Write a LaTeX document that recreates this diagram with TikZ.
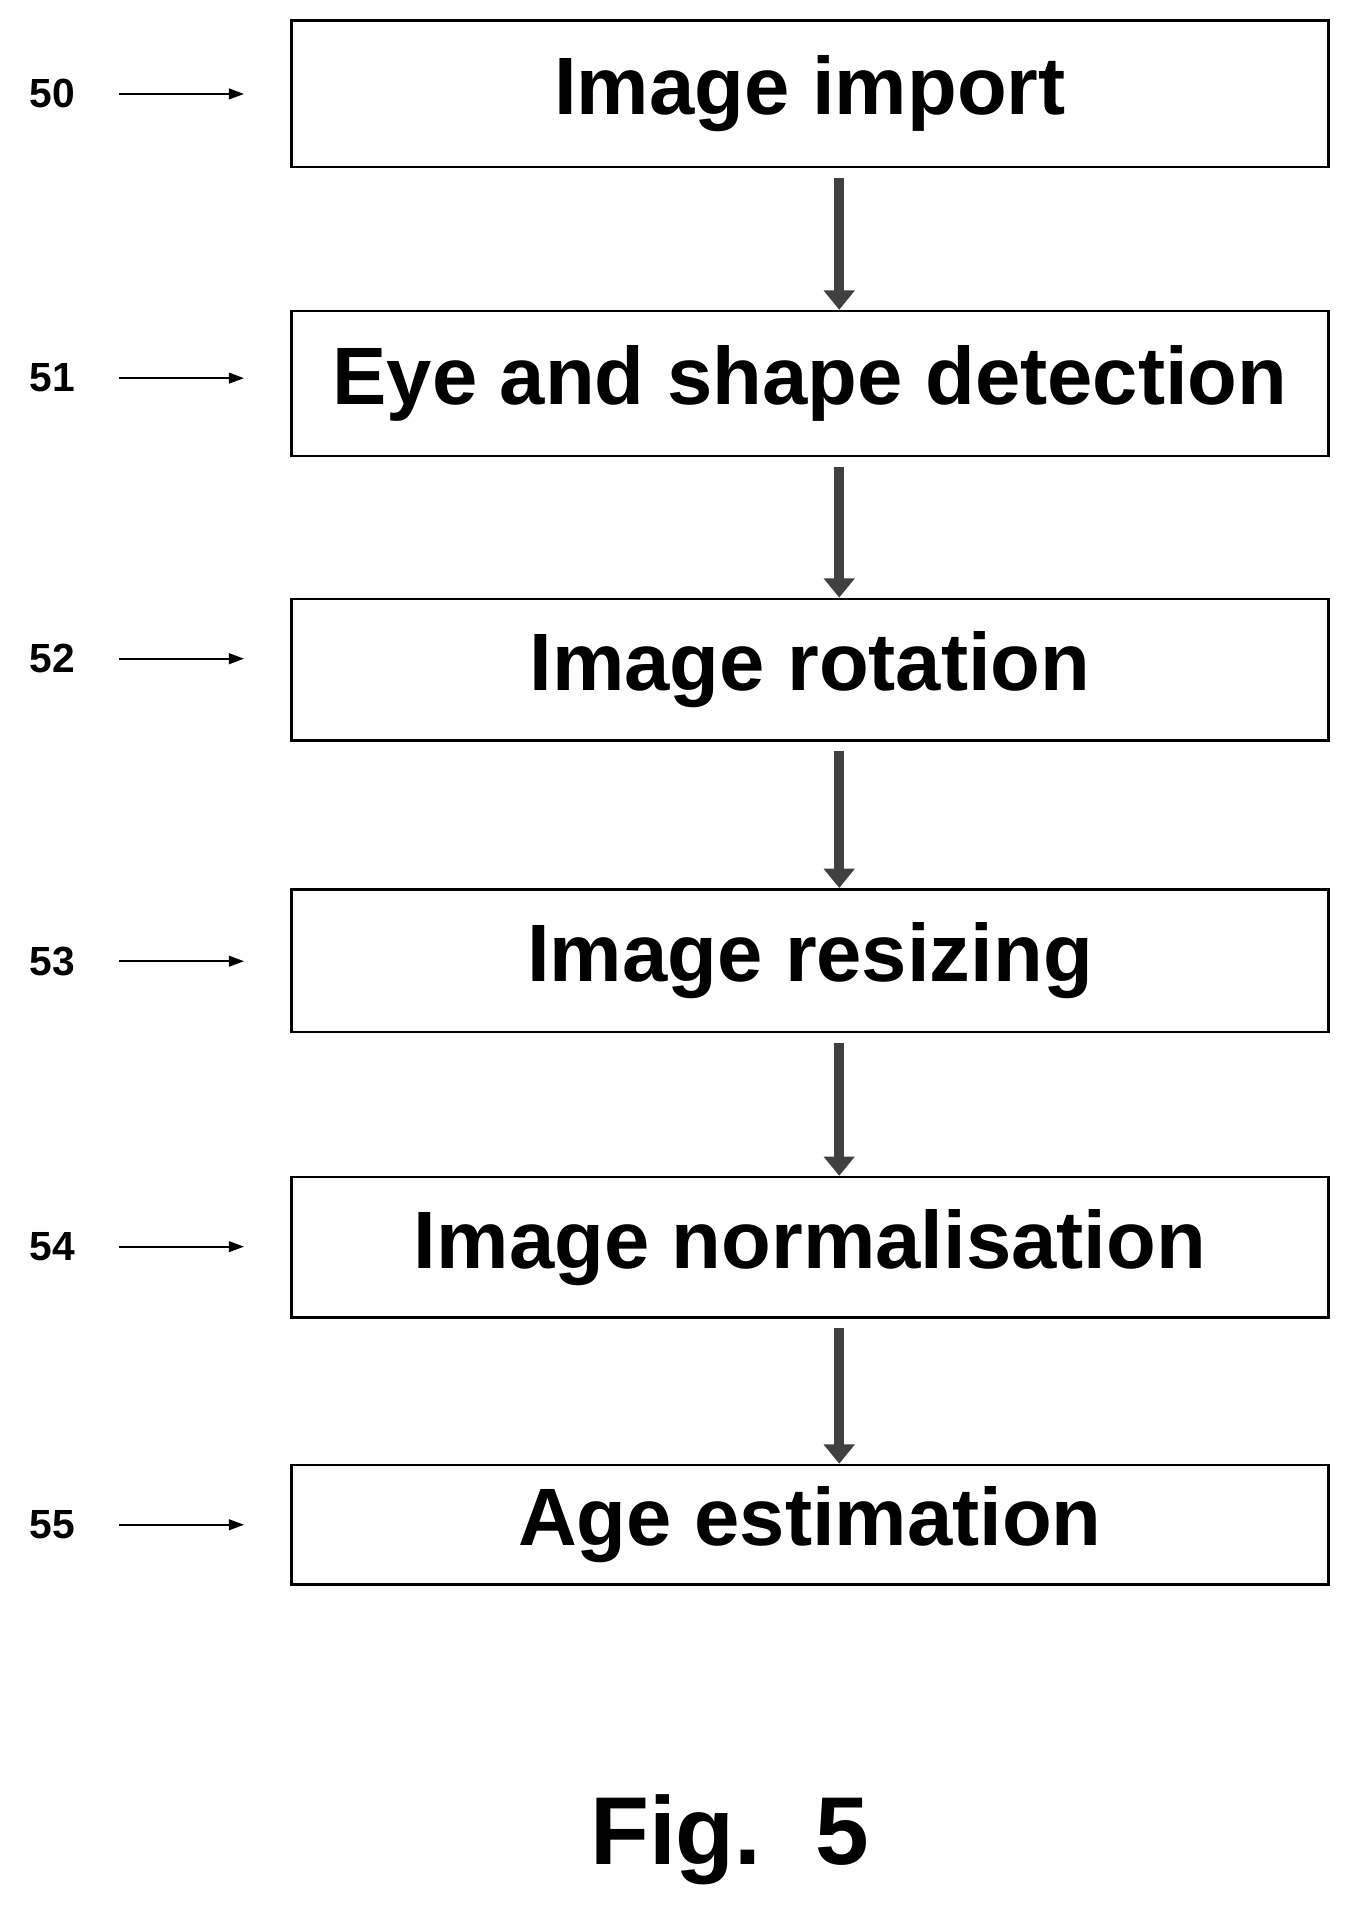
\documentclass[tikz,border=0pt]{standalone}
\usepackage{fontspec}
\setmainfont{Liberation Sans}
\usetikzlibrary{arrows.meta}
\tikzset{>=Triangle[]}
\tikzset{
  stage/.style={draw,line width=1.2pt,minimum width=17cm,inner sep=0pt,font=\fontsize{38}{40}\selectfont\bfseries},
  ref/.style={font=\fontsize{19}{21}\selectfont\bfseries},
  flow/.style={->,line width=4.5pt,draw=black!75,>={Triangle[length=9pt,width=14pt]}},
  refarrow/.style={->,line width=0.8pt,>={Triangle[length=7pt,width=5pt]}}
}
\begin{document}
\begin{tikzpicture}[x=0.02cm,y=-0.02cm]
      \useasboundingbox (0,0) rectangle (1105,1565);

      \node[stage,minimum height=2.4cm](s50) at (664, 77) {Image import};
      \node[stage,minimum height=2.38cm](s51) at (664, 314.5) {Eye and shape detection};
      \node[stage,minimum height=2.32cm](s52) at (664, 549) {Image rotation};
      \node[stage,minimum height=2.34cm](s53) at (664, 787.5) {Image resizing};
      \node[stage,minimum height=2.3cm](s54) at (664, 1022.5) {Image normalisation};
      \node[stage,minimum height=1.96cm](s55) at (664, 1250) {Age estimation};

      \foreach \n/\y in {50/77, 51/310, 52/540, 53/788, 54/1022, 55/1250} {
        \node[ref](r\n) at (43, \y) {\n};
        \coordinate (t\n) at (200, \y);
        \draw[refarrow] (r\n.east) ++(30,0) -- (t\n);
      }

      \foreach \a/\b in {50/51, 51/52, 52/53, 53/54, 54/55} {
        \draw[flow] ([xshift=0.48cm,yshift=-0.16cm]s\a.south) -- ([xshift=0.48cm]s\b.north);
      }

      \node[font=\fontsize{45}{50}\selectfont\bfseries](fig) at (598, 1508) {Fig.~~5};
\end{tikzpicture}
\end{document}
